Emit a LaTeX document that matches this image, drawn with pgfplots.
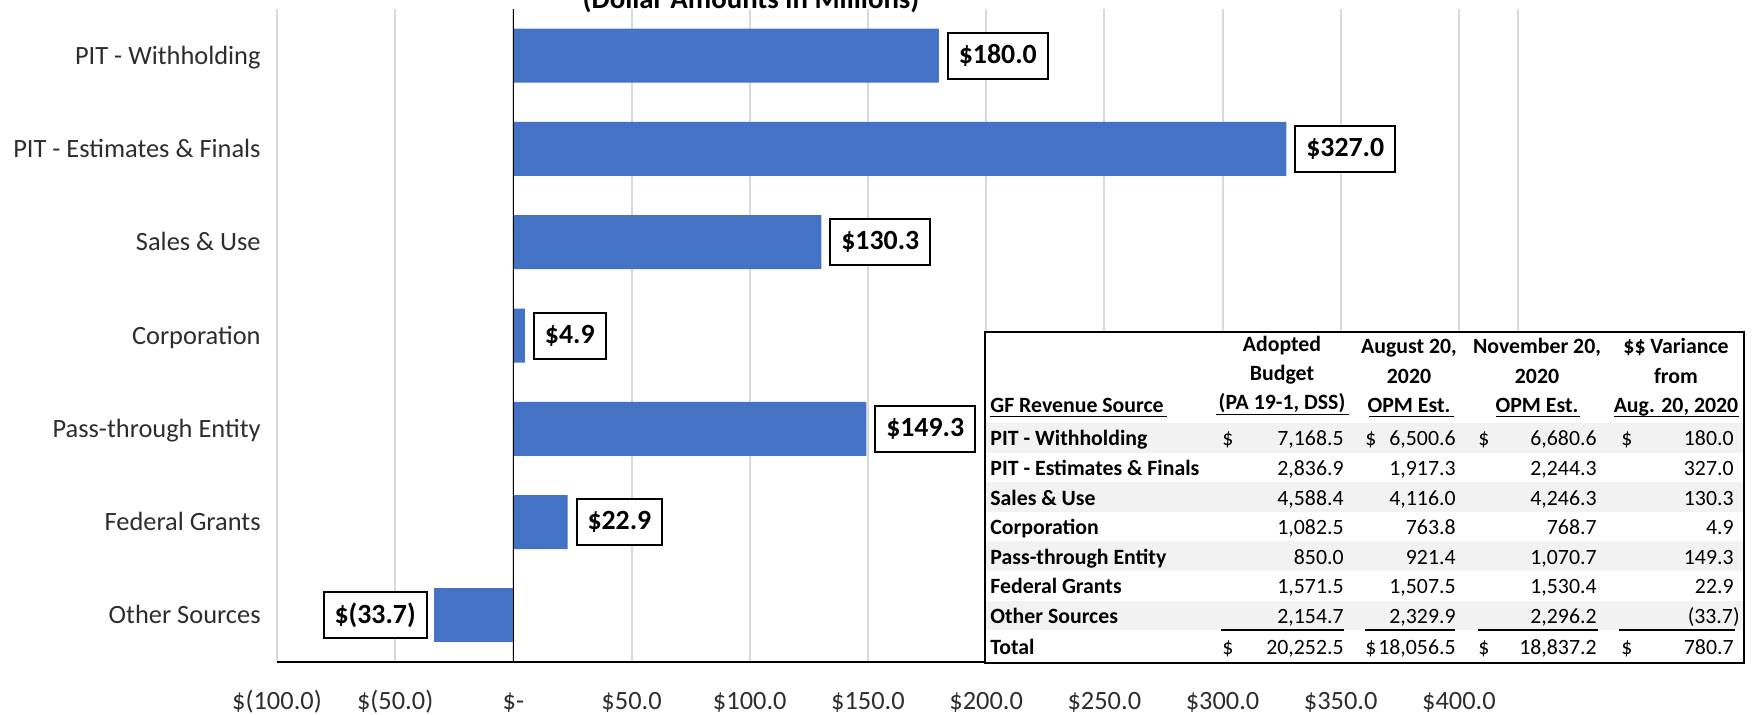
\documentclass[border=0pt]{standalone}
\usepackage{fontspec}
\setmainfont{Carlito}
\usepackage{pgfplots}
\pgfplotsset{compat=1.18}
\definecolor{barblue}{RGB}{68,114,196}
\definecolor{rowgray}{RGB}{242,242,242}
\definecolor{tickgray}{RGB}{45,45,45}
\newcommand\tf{\fontsize{10.9}{13}\selectfont}
% row macro: index, label, col2, col3, col4
\newcommand\trow[5]{%
 \node[anchor=base west,font=\tf\bfseries] at (990,{446+29.6*#1}) {#2};
 \node[anchor=base east,font=\tf] at (1344,{446+29.6*#1}) {#3};
 \node[anchor=base east,font=\tf] at (1456,{446+29.6*#1}) {#4};
 \node[anchor=base east,font=\tf] at (1597,{446+29.6*#1}) {#5};
}
\begin{document}
\begin{tikzpicture}
\begin{axis}[
 at={(138.5pt,26.5pt)}, anchor=south west,
 scale only axis, width=620.5pt, height=326.5pt,
 xmin=-100, xmax=425, ymin=0.5, ymax=7.5, y dir=reverse,
 xbar, bar width=27pt,
 axis line style={draw=none},
 major tick length=0pt, tick style={draw=none},
 xtick={-100,-50,...,400},
 xticklabels={\$(100.0),\$(50.0),\$-,\$50.0,\$100.0,\$150.0,\$200.0,\$250.0,\$300.0,\$350.0,\$400.0},
 ytick={1,2,3,4,5,6,7},
 yticklabels={PIT - Withholding, PIT - Estimates \& Finals, Sales \& Use, Corporation, Pass-through Entity, Federal Grants, Other Sources},
 xmajorgrids, grid style={gray!30,line width=1pt},
 tick label style={font=\fontsize{13.2}{15}\selectfont, text=tickgray},
 xticklabel style={anchor=base, inner sep=0pt, yshift=-23.5pt},
 yticklabel style={anchor=base east, inner sep=0pt, xshift=-8pt, yshift=-4.25pt},
 clip=false,
 point meta=explicit symbolic,
 nodes near coords,
 every node near coord/.append style={draw=black, line width=1pt, fill=white, text=black, font=\bfseries\fontsize{13.9}{16}\selectfont, inner xsep=5.5pt, inner ysep=0pt, minimum height=23pt},
]
\addplot[fill=barblue, draw=none, bar shift=0pt, nodes near coords style={anchor=west, xshift=4pt}]
 coordinates {(180,1)[\$180.0] (327,2)[\$327.0] (130.3,3)[\$130.3] (4.9,4)[\$4.9] (149.3,5)[\$149.3] (22.9,6)[\$22.9]};
\addplot[fill=barblue, draw=none, bar shift=0pt, nodes near coords style={anchor=east, xshift=-3pt}]
 coordinates {(-33.7,7)[\$(33.7)]};
\draw[gray!30,line width=1pt] (axis cs:425,0.5) -- (axis cs:425,7.5);
\draw[black,line width=0.8pt] (axis cs:0,0.5) -- (axis cs:0,7.5);
\draw[black,line width=1.2pt] (axis cs:-100,7.5) -- (axis cs:425,7.5);
\end{axis}
\begin{scope}[x=0.5pt,y=-0.5pt,yshift=357.5pt,every node/.style={inner sep=0pt}]
 % title (partly cut at the top)
 \node[anchor=base, font=\bfseries\fontsize{14.4}{17}\selectfont] at (751,8.5) {(Dollar Amounts in Millions)};
 % table
 \fill[white] (985,332) rectangle (1744,663);
 \foreach \i in {0,2,4,6} {\fill[rowgray] (985,{423+29.6*\i}) rectangle (1744,{423+29.6*(\i+1)});}
 % headers
 \node[anchor=base west,font=\tf\bfseries] at (990,413) {GF Revenue Source};
 \node[anchor=base,font=\tf\bfseries] at (1282,352) {Adopted};
 \node[anchor=base,font=\tf\bfseries] at (1282,381) {Budget};
 \node[anchor=base,font=\tf\bfseries] at (1282,410) {(PA 19-1, DSS)};
 \node[anchor=base,font=\tf\bfseries] at (1409,354) {August 20,};
 \node[anchor=base,font=\tf\bfseries] at (1409,384) {2020};
 \node[anchor=base,font=\tf\bfseries] at (1409,413) {OPM Est.};
 \node[anchor=base,font=\tf\bfseries] at (1537,354) {November 20,};
 \node[anchor=base,font=\tf\bfseries] at (1537,384) {2020};
 \node[anchor=base,font=\tf\bfseries] at (1537,413) {OPM Est.};
 \node[anchor=base,font=\tf\bfseries] at (1676,354) {\$\$ Variance};
 \node[anchor=base,font=\tf\bfseries] at (1676,384) {from};
 \node[anchor=base,font=\tf\bfseries] at (1676,413) {Aug. 20, 2020};
 \draw[line width=0.8pt] (990,416.5) -- (1167,416.5);
 \draw[line width=0.8pt] (1216,414.5) -- (1349,414.5);
 \draw[line width=0.8pt] (1369,416.5) -- (1454,416.5);
 \draw[line width=0.8pt] (1496,416.5) -- (1580,416.5);
 \draw[line width=0.8pt] (1614,416.5) -- (1739,416.5);
 % rows
 \trow{0}{PIT - Withholding}{7,168.5}{6,500.6}{6,680.6}
 \node[anchor=base east,font=\tf] at (1734,446) {180.0};
 \trow{1}{PIT - Estimates \& Finals}{2,836.9}{1,917.3}{2,244.3}
 \node[anchor=base east,font=\tf] at (1734,{446+29.6}) {327.0};
 \trow{2}{Sales \& Use}{4,588.4}{4,116.0}{4,246.3}
 \node[anchor=base east,font=\tf] at (1734,{446+29.6*2}) {130.3};
 \trow{3}{Corporation}{1,082.5}{763.8}{768.7}
 \node[anchor=base east,font=\tf] at (1734,{446+29.6*3}) {4.9};
 \trow{4}{Pass-through Entity}{850.0}{921.4}{1,070.7}
 \node[anchor=base east,font=\tf] at (1734,{446+29.6*4}) {149.3};
 \trow{5}{Federal Grants}{1,571.5}{1,507.5}{1,530.4}
 \node[anchor=base east,font=\tf] at (1734,{446+29.6*5}) {22.9};
 \trow{6}{Other Sources}{2,154.7}{2,329.9}{2,296.2}
 \node[anchor=base east,font=\tf] at (1740,{446+29.6*6}) {(33.7)};
 % dollar signs, first row
 \node[anchor=base west,font=\tf] at (1222,446) {\$};
 \node[anchor=base west,font=\tf] at (1365,446) {\$};
 \node[anchor=base west,font=\tf] at (1478,446) {\$};
 \node[anchor=base west,font=\tf] at (1621,446) {\$};
 % total rules
 \draw[line width=0.8pt] (1221,630) -- (1344,630);
 \draw[line width=0.8pt] (1365,630) -- (1455,630);
 \draw[line width=0.8pt] (1478,630) -- (1598,630);
 \draw[line width=0.8pt] (1619,630) -- (1735,630);
 % total row
 \node[anchor=base west,font=\tf\bfseries] at (990,655) {Total};
 \node[anchor=base west,font=\tf] at (1222,655) {\$};
 \node[anchor=base east,font=\tf] at (1344,655) {20,252.5};
 \node[anchor=base west,font=\tf] at (1365,655) {\$};
 \node[anchor=base east,font=\tf] at (1456,655) {18,056.5};
 \node[anchor=base west,font=\tf] at (1478,655) {\$};
 \node[anchor=base east,font=\tf] at (1597,655) {18,837.2};
 \node[anchor=base west,font=\tf] at (1621,655) {\$};
 \node[anchor=base east,font=\tf] at (1734,655) {780.7};
 \draw[line width=1.2pt] (985,332) rectangle (1744,663);
\end{scope}
\pgfresetboundingbox
\useasboundingbox (0,0) rectangle (877pt,357.5pt);
\end{tikzpicture}
\end{document}
